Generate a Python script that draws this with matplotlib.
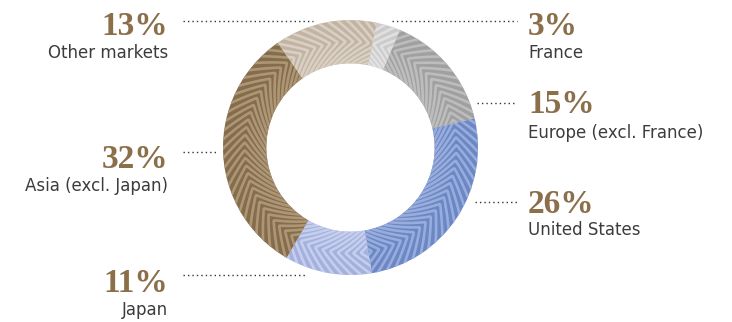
import numpy as np
import matplotlib
matplotlib.use("Agg")
import matplotlib.pyplot as plt

# ---- data ----
regions = ["France", "Europe (excl. France)", "United States", "Japan",
           "Asia (excl. Japan)", "Other markets"]
shares = [3, 15, 26, 11, 32, 13]
pct_labels = ["3%", "15%", "26%", "11%", "32%", "13%"]

base_colors = ["#cbcbcb", "#a0a0a0", "#6b87c4", "#a4b1de", "#856d4c", "#c1b4a4"]
stripe_colors = ["#e0e0e0", "#bdbdbd", "#98addc", "#c5ceed", "#ad9676", "#d9cfc3"]

W, H = 732, 322
fig = plt.figure(figsize=(W / 100, H / 100), dpi=100)

cx, cy, R = 350.5, 147.5, 127.5
ax = fig.add_axes([(cx - R) / W, (H - cy - R) / H, 2 * R / W, 2 * R / H])
width = 0.34
wedges, _ = ax.pie(shares, startangle=78, counterclock=False,
                   colors=base_colors, radius=1.0,
                   wedgeprops=dict(width=width, linewidth=0))
ax.set_xlim(-1, 1)
ax.set_ylim(-1, 1)
ax.set_aspect("equal")
ax.axis("off")

# herringbone stripes clipped to each wedge
r_in = 1 - width
r_mid = (1 + r_in) / 2
rr = np.linspace(r_in - 0.02, 1.02, 60)
step = 4.2
k = 1.2
for w, sc in zip(wedges, stripe_colors):
    t1, t2 = w.theta1, w.theta2
    mid = np.deg2rad((t1 + t2) / 2)
    sgn = -1 if np.cos(mid) > 0 else 1
    for c in np.arange(t1 - 40, t2 + 40, step):
        th = np.deg2rad(c) + sgn * k * np.abs(rr - r_mid) / rr
        ln, = ax.plot(rr * np.cos(th), rr * np.sin(th), color=sc, lw=1.9,
                      solid_capstyle="butt")
        ln.set_clip_path(w)

# ---- annotation layer in pixel coordinates ----
ov = fig.add_axes([0, 0, 1, 1])
ov.set_xlim(0, W)
ov.set_ylim(H, 0)
ov.axis("off")

pct_color = "#8b6e4a"
lab_color = "#3c3c3c"
serif = ["Liberation Serif", "DejaVu Serif"]
sans = ["DejaVu Sans"]

# (text x, align, pct baseline, label baseline, leader x0, x1, leader y)
layout = {
    "France": (528, "left", 35, 58, 392, 517, 20.7),
    "Europe (excl. France)": (528, "left", 113, 138, 477, 517, 103),
    "United States": (528, "left", 213, 235, 475, 517, 202),
    "Japan": (168, "right", 292, 315, 183, 307, 275),
    "Asia (excl. Japan)": (168, "right", 168, 191, 183, 216, 152),
    "Other markets": (168, "right", 35, 58, 183, 313, 20.7),
}

for name, pl in zip(regions, pct_labels):
    x, ha, pb, lb, x0, x1, ly = layout[name]
    ov.text(x, pb, pl, ha=ha, va="baseline", color=pct_color,
            fontsize=24, fontweight="bold", family=serif)
    ov.text(x, lb, name, ha=ha, va="baseline", color=lab_color,
            fontsize=12, family=sans)
    ov.plot([x0, x1], [ly, ly], color="#333333", lw=1.0,
            linestyle=(0, (1, 2.2)))

fig.savefig("out.png", dpi=100)
